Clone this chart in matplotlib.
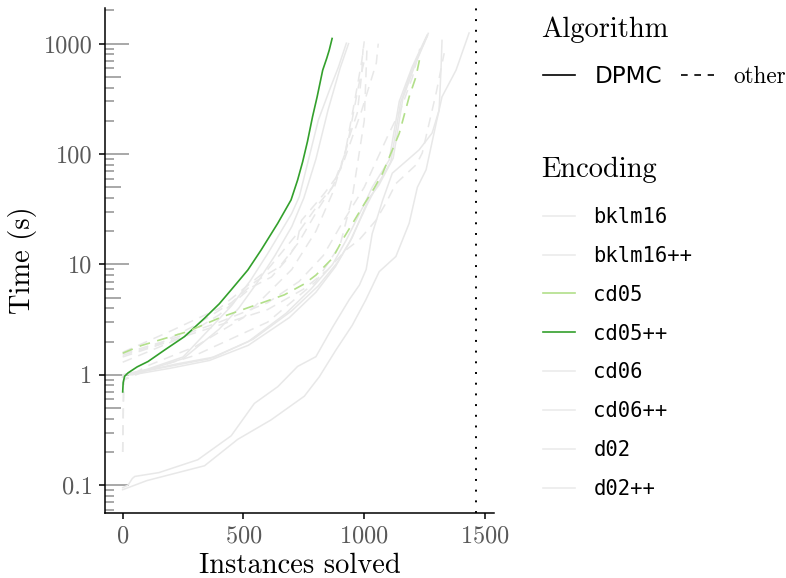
import numpy as np
import matplotlib.pyplot as plt
from matplotlib.lines import Line2D
from matplotlib.transforms import blended_transform_factory

plt.rcParams['font.family'] = 'cmr10'
plt.rcParams['axes.formatter.use_mathtext'] = True

# Data (instances solved vs. time in seconds)
encodings = ["bklm16", "bklm16++", "cd05", "cd05++", "cd06", "cd06++", "d02", "d02++"]
enc_colors = ["#ebebeb", "#ebebeb", "#b2df8a", "#33a02c", "#ebebeb", "#ebebeb", "#ebebeb", "#ebebeb"]
highlighted = [("cd05++", "DPMC"), ("cd05", "other")]
total_instances = 1464
y_ticks = [0.1, 1, 10, 100, 1000]
y_tick_labels = ["0.1", "1", "10", "100", "1000"]
x_ticks = [0, 500, 1000, 1500]

# DPMC runs (solid)
bklm16_dpmc_x = [0, 22, 40, 50, 150, 311, 449, 545, 642, 724, 800, 869, 938, 980, 1008, 1033, 1076, 1116, 1227, 1281, 1310, 1318, 1322]
bklm16_dpmc_y = [0.095, 0.1, 0.115, 0.12, 0.13, 0.17, 0.28, 0.55, 0.78, 1.19, 1.46, 2.7, 4.8, 6.5, 9, 19, 38, 67, 109, 155, 250, 600, 1070]
bklm16pp_dpmc_x = [0, 100, 339, 476, 614, 752, 814, 883, 950, 1007, 1062, 1131, 1186, 1220, 1256, 1300, 1322, 1380, 1434]
bklm16pp_dpmc_y = [0.091, 0.11, 0.15, 0.26, 0.39, 0.64, 0.96, 1.68, 2.8, 4.8, 8.6, 11.8, 23.6, 50, 72, 200, 330, 575, 1250]
cd05_dpmc_x = [0, 2, 30, 200, 360, 520, 676, 780, 869, 926, 1008, 1033, 1103, 1145, 1198, 1260]
cd05_dpmc_y = [0.95, 1.0, 1.02, 1.2, 1.4, 2.0, 3.6, 6.0, 10, 16.7, 38, 50, 88, 300, 612, 1194]
cd05pp_dpmc_x = [0, 2, 8, 22, 60, 105, 174, 256, 339, 400, 449, 518, 573, 642, 697, 724, 745, 765, 786, 805, 828, 845, 855, 867]
cd05pp_dpmc_y = [0.70, 0.85, 0.97, 1.04, 1.18, 1.32, 1.68, 2.22, 3.26, 4.4, 5.88, 8.9, 13.5, 23.6, 38.4, 58, 85, 130, 218, 330, 575, 740, 873, 1114]
cd06_dpmc_x = [0, 2, 100, 250, 380, 450, 530, 600, 650, 700, 731, 810, 860, 893, 926]
cd06_dpmc_y = [0.95, 1.0, 1.12, 1.45, 2.9, 4.2, 7.2, 12.5, 19, 29, 41, 203, 400, 612, 1010]
cd06pp_dpmc_x = [0, 2, 40, 200, 360, 520, 690, 800, 880, 940, 1015, 1045, 1110, 1150, 1200, 1262]
cd06pp_dpmc_y = [0.95, 1.0, 1.0, 1.15, 1.35, 1.85, 3.3, 5.6, 9.5, 16, 36, 48, 85, 290, 600, 1180]
d02_dpmc_x = [0, 2, 100, 250, 400, 480, 560, 630, 700, 750, 800, 850, 900, 935]
d02_dpmc_y = [0.95, 1.0, 1.1, 1.4, 2.6, 4.0, 7.0, 12, 22, 40, 90, 250, 600, 1000]
d02pp_dpmc_x = [0, 2, 60, 220, 380, 540, 700, 810, 890, 950, 1020, 1060, 1120, 1160, 1210, 1265]
d02pp_dpmc_y = [0.95, 1.0, 1.05, 1.25, 1.45, 2.1, 3.8, 6.4, 10.5, 17.5, 40, 52, 92, 320, 640, 1240]

# other solvers (dashed)
bklm16_other_x = [0, 100, 250, 400, 533, 616, 678, 719, 740, 835, 897, 938, 971, 990, 995]
bklm16_other_y = [1.3, 1.6, 2.2, 3.5, 6.2, 7.7, 11, 15, 25, 44, 67, 143, 235, 540, 900]
bklm16pp_other_x = [0, 200, 400, 600, 731, 814, 868, 917, 990, 1050, 1058]
bklm16pp_other_y = [1.6, 2.5, 4, 9, 20, 36, 50, 88, 250, 667, 1000]
cd05_other_x = [0, 77, 270, 408, 573, 669, 752, 800, 869, 910, 952, 993, 1041, 1076, 1145, 1186, 1214, 1234]
cd05_other_y = [1.57, 1.84, 2.47, 3.33, 4.46, 5.3, 6.66, 8.0, 11.4, 16.7, 23.6, 33.3, 49, 67, 154, 330, 500, 813]
cd05pp_other_x = [0, 300, 600, 750, 850, 924, 979, 1048, 1090, 1131, 1215, 1240, 1298, 1331]
cd05pp_other_y = [1.45, 2.4, 3.9, 6, 9, 13.5, 16.7, 25, 36, 54, 80, 102, 360, 820]
cd06_other_x = [0, 3, 6, 100, 300, 600, 800, 900, 950, 1000, 1012]
cd06_other_y = [0.2, 0.5, 0.9, 1.1, 1.5, 3, 7, 15, 40, 200, 1000]
cd06pp_other_x = [0, 150, 300, 450, 550, 649, 730, 814, 868, 920, 960, 990, 1000]
cd06pp_other_y = [1.5, 1.9, 2.8, 4.5, 7, 9.5, 16, 33, 50, 100, 300, 700, 1050]
d02_other_x = [0, 200, 400, 600, 730, 830, 900, 1000, 1100, 1150, 1200, 1230]
d02_other_y = [1.55, 2.1, 3.0, 4.5, 7, 12, 22, 50, 150, 250, 500, 900]
d02pp_other_x = [0, 3, 100, 300, 500, 700, 800, 870, 930, 975, 1000]
d02pp_other_y = [0.2, 0.9, 1.2, 1.8, 3.3, 9, 20, 45, 120, 400, 700]

dpmc_x = [bklm16_dpmc_x, bklm16pp_dpmc_x, cd05_dpmc_x, cd05pp_dpmc_x, cd06_dpmc_x, cd06pp_dpmc_x, d02_dpmc_x, d02pp_dpmc_x]
dpmc_y = [bklm16_dpmc_y, bklm16pp_dpmc_y, cd05_dpmc_y, cd05pp_dpmc_y, cd06_dpmc_y, cd06pp_dpmc_y, d02_dpmc_y, d02pp_dpmc_y]
other_x = [bklm16_other_x, bklm16pp_other_x, cd05_other_x, cd05pp_other_x, cd06_other_x, cd06pp_other_x, d02_other_x, d02pp_other_x]
other_y = [bklm16_other_y, bklm16pp_other_y, cd05_other_y, cd05pp_other_y, cd06_other_y, cd06pp_other_y, d02_other_y, d02pp_other_y]

fig = plt.figure(figsize=(7.86, 5.78), dpi=100)
ax = fig.add_axes([0.1336, 0.1125, 0.4949, 0.8735])

dash = (0, (6.5, 4.5))
# grey lines first, highlighted lines on top
for algo, xs, ys, ls in [("DPMC", dpmc_x, dpmc_y, "-"), ("other", other_x, other_y, dash)]:
    for enc, x, y in zip(encodings, xs, ys):
        if (enc, algo) not in highlighted:
            ax.plot(x, y, color="#e8e8e8", lw=1.1, linestyle=ls, zorder=2)
for algo, xs, ys, ls in [("DPMC", dpmc_x, dpmc_y, "-"), ("other", other_x, other_y, dash)]:
    for enc, col, x, y in zip(encodings, enc_colors, xs, ys):
        if (enc, algo) in highlighted:
            ax.plot(x, y, color=col, lw=1.2, linestyle=ls, zorder=3)

ax.axvline(total_instances, color="black", lw=1.4, linestyle=(0, (1, 4.5)), zorder=4)

ax.set_yscale("log")
ax.set_xlim(-0.05 * total_instances, 1.05 * total_instances)
ax.set_ylim(0.056, 2100)
ax.set_yticks(y_ticks)
ax.set_yticklabels(y_tick_labels)
ax.yaxis.set_minor_locator(plt.NullLocator())
ax.set_xticks(x_ticks)

# log tick annotations inside the panel
trans = blended_transform_factory(ax.transAxes, ax.transData)
axw = 389.0
for dec in range(-2, 5):
    for k in range(1, 10):
        L = 24 if k == 1 else (16 if k == 5 else 9)
        ax.plot([0, L / axw], [k * 10.0 ** dec] * 2, transform=trans,
                color="#9a9a9a", lw=1.2, zorder=1, solid_capstyle="butt")

for s in ["top", "right"]:
    ax.spines[s].set_visible(False)
for s in ["left", "bottom"]:
    ax.spines[s].set_linewidth(1.1)
ax.tick_params(axis="both", length=4, width=1.1, color="black",
               labelsize=17.5, labelcolor="#595959")
ax.tick_params(axis="x", pad=5)
ax.tick_params(axis="y", pad=5)

ax.set_xlabel("Instances solved", fontsize=20.5, labelpad=4)
ax.set_ylabel("Time (s)", fontsize=20.5, labelpad=5)

# legends (titles as separate texts for exact placement)
fig.text(541 / 786, 1 - 36.7 / 578, "Algorithm", fontsize=20.5, va="baseline", ha="left")
fig.text(541 / 786, 1 - 176.7 / 578, "Encoding", fontsize=20.5, va="baseline", ha="left")

alg_handles = [Line2D([], [], color="black", lw=1.2),
               Line2D([], [], color="black", lw=1.2, linestyle=(0, (4, 4)))]
leg1 = fig.legend(alg_handles, ["DPMC", "other"], loc="center left",
                  bbox_to_anchor=(543 / 786, 1 - 77 / 578), ncol=2, frameon=False,
                  borderpad=0, borderaxespad=0,
                  handlelength=1.4, columnspacing=0.8, handletextpad=0.85,
                  fontsize=16.7)
leg1.get_texts()[0].set_family("DejaVu Sans")

enc_handles = [Line2D([], [], color=c, lw=1.2) for c in enc_colors]
leg2 = fig.legend(enc_handles, encodings, loc="center left",
                  bbox_to_anchor=(543 / 786, 1 - 353 / 578), frameon=False,
                  borderpad=0, borderaxespad=0,
                  handlelength=1.55, handletextpad=0.9, labelspacing=0.92,
                  fontsize=14.8)
for t in leg2.get_texts():
    t.set_family("DejaVu Sans Mono")

fig.savefig("out.png", dpi=100)
